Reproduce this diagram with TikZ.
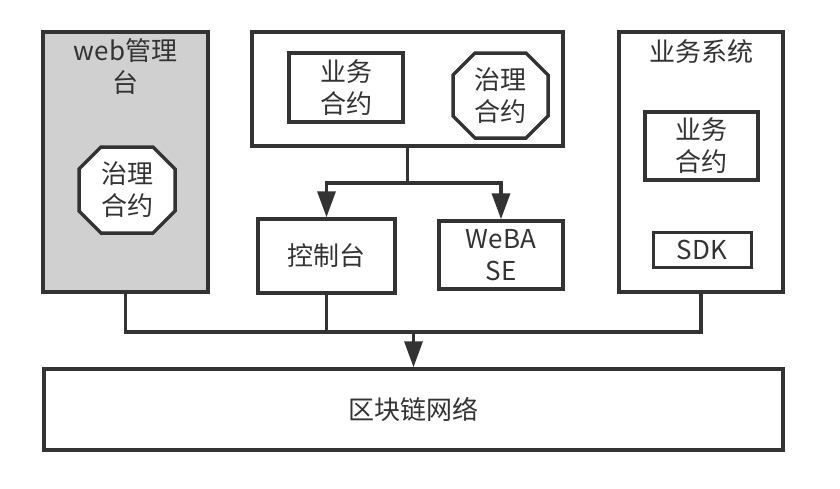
\documentclass[tikz,border=0pt]{standalone}
\usepackage{fontspec}
\setmainfont{Noto Sans CJK SC}
\usetikzlibrary{arrows.meta}
\definecolor{ink}{HTML}{333333}
\definecolor{panel}{HTML}{D0D0D0}
\begin{document}
\begin{tikzpicture}[x=1pt,y=-1pt,
  txt/.style={text=ink,font=\fontsize{26}{32}\selectfont,align=center,inner sep=0pt},
  box/.style={txt,draw=ink,line width=3.5pt,fill=white},
  link/.style={draw=ink,line width=3.5pt},
  flow/.style={link,-{Triangle[width=18pt,length=26pt]}},
  % octagon outline: half width, half height, corner cut of 22pt
  pics/octa/.style n args={2}{code={
    \draw[draw=ink,line width=3.5pt,fill=white,line join=miter]
      (-#1+22,-#2) -- (#1-22,-#2) -- (#1,-#2+22) -- (#1,#2-22)
      -- (#1-22,#2) -- (-#1+22,#2) -- (-#1,#2-22) -- (-#1,-#2+22) -- cycle;}}]
\useasboundingbox (0,0) rectangle (840,488);

% left panel: web console
\node[box,fill=panel,minimum width=165pt,minimum height=260pt] (web) at (125.5,162) {};
\node[txt] (webt) at (125.5,66.5) {web管理\\台};
\pic at (127,190) {octa={48}{43}};
\node[txt] (govl) at (127,190) {治理\\合约};

% contracts panel
\node[box,minimum width=311pt,minimum height=114pt] (top) at (407.5,89) {};
\node[box,minimum width=114pt,minimum height=69pt] (bizc) at (346,87.5) {业务\\合约};
\pic at (500.5,95.5) {octa={47.5}{42.5}};
\node[txt] (govm) at (500.5,95.5) {治理\\合约};

% tools
\node[box,minimum width=137pt,minimum height=74pt] (ctl) at (326.5,256) {控制台};
\node[box,minimum width=124pt,minimum height=68pt] (webase) at (501,255) {WeBA\\SE};

% business system panel
\node[box,minimum width=164pt,minimum height=260pt] (biz) at (701,162) {};
\node[txt] (bizt) at (701,52) {业务系统};
\node[box,minimum width=113pt,minimum height=68pt] (bizr) at (701.5,146) {业务\\合约};
\node[box,line width=3pt,minimum width=98pt,minimum height=35pt] (sdk) at (702,249.5) {SDK};

% blockchain network
\node[box,minimum width=739pt,minimum height=81pt] (net) at (413.5,409.5) {区块链网络};

% connectors
\coordinate (split) at (407.5,183);
\coordinate (bus) at (413.5,332);
\draw[link] (top.south) -- (split);
\draw[flow] (split) -| (ctl.north);
\draw[flow] (split) -| (webase.north);
\draw[link] (web.south) |- (bus);
\draw[link] (biz.south) |- (bus);
\draw[link] (ctl.south) -- (ctl.south |- bus);
\draw[flow] (bus) -- (net.north);
\end{tikzpicture}
\end{document}
